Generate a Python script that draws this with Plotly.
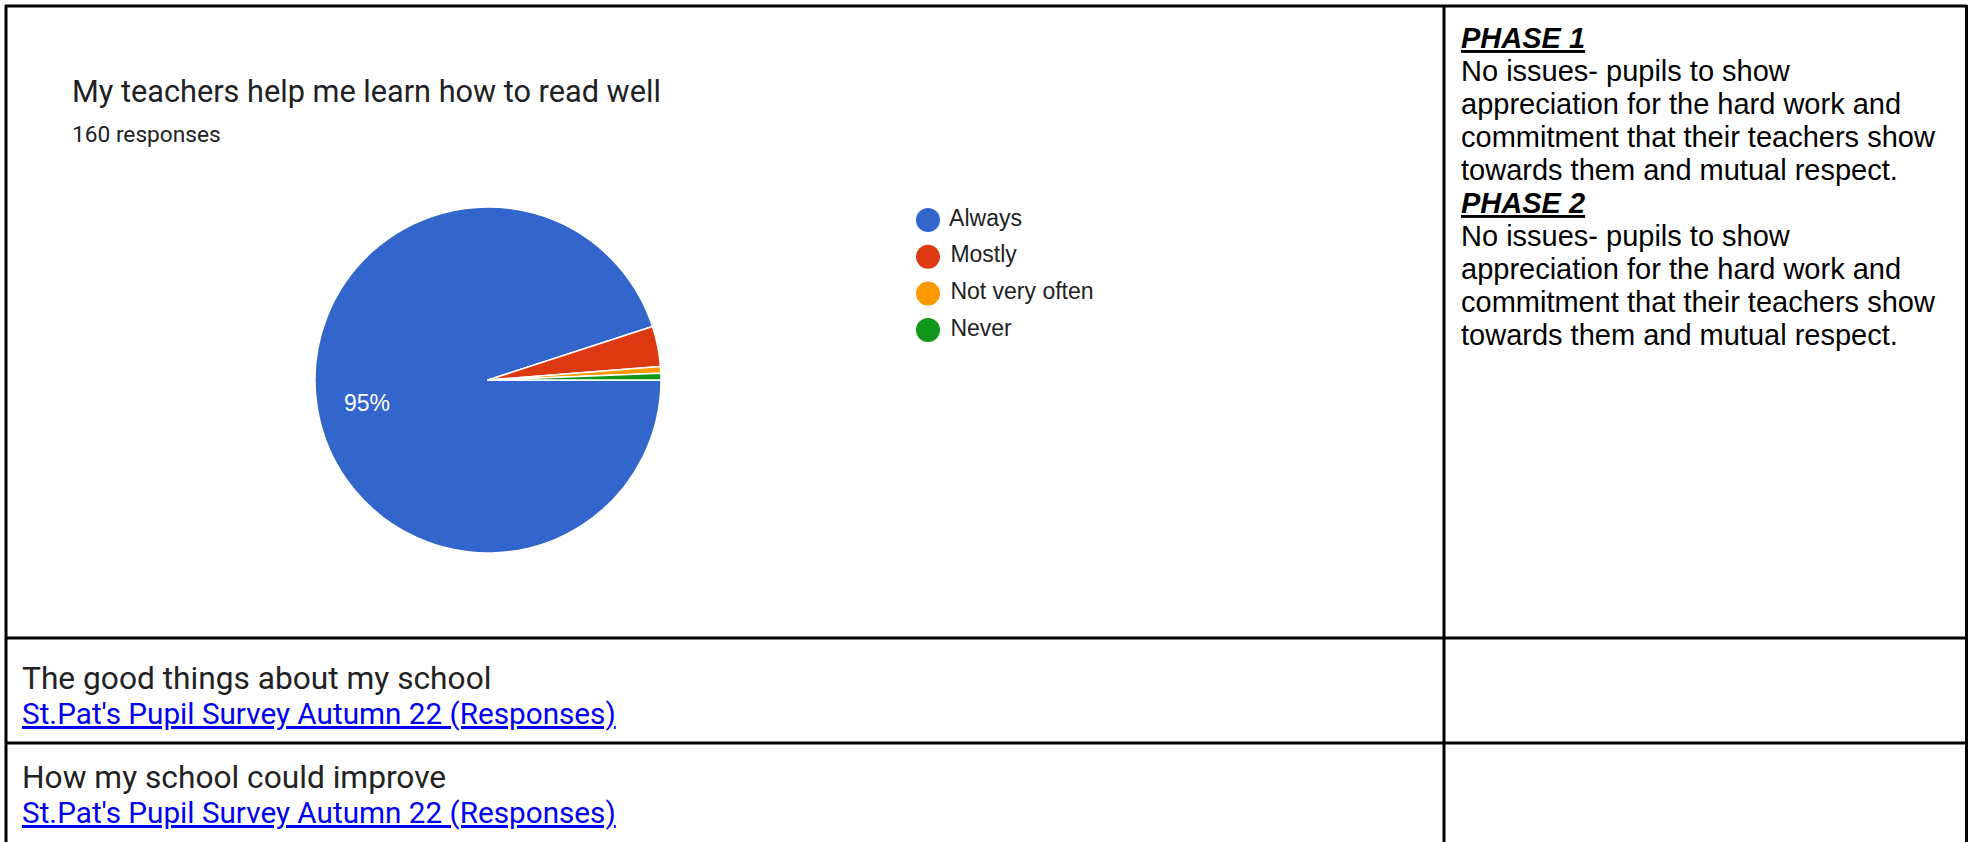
import math
import plotly.graph_objects as go

W, H = 1968, 842

# ---- data ----
categories = ["Always", "Mostly", "Not very often", "Never"]
counts = [152, 6, 1, 1]
colors = ["#3366cc", "#dc3912", "#ff9900", "#109618"]
chart_title = "My teachers help me learn how to read well"
responses_label = "160 responses"
phase_lines = [
    "<b><i><u>PHASE 1</u></i></b>",
    "No issues- pupils to show",
    "appreciation for the hard work and",
    "commitment that their teachers show",
    "towards them and mutual respect.",
    "<b><i><u>PHASE 2</u></i></b>",
    "No issues- pupils to show",
    "appreciation for the hard work and",
    "commitment that their teachers show",
    "towards them and mutual respect.",
]
row_titles = ["The good things about my school", "How my school could improve"]
link_text = "St.Pat's Pupil Survey Autumn 22 (Responses)"

total = sum(counts)
shares = [c / total for c in counts]
rotation = 90


def px(x):
    return x / W


def py(y):
    return 1 - y / H


fig = go.Figure()

# pie
cx, cy, r = 488, 380, 173
fig.add_trace(go.Pie(
    labels=categories, values=counts, sort=False, direction="clockwise", rotation=rotation,
    marker=dict(colors=colors, line=dict(color="white", width=1.5)),
    textinfo="none",
    domain=dict(x=[px(cx - r), px(cx + r)], y=[py(cy + r), py(cy - r)]),
    showlegend=False, hoverinfo="label+percent",
))

annotations = []

# percentage labels for slices large enough to show one (placed along slice bisector)
start = rotation
for s in shares:
    span = s * 360
    if s > 0.5:
        mid = math.radians(start + span / 2)
        lx = cx + 0.72 * r * math.sin(mid)
        ly = cy - 0.72 * r * math.cos(mid)
        annotations.append(dict(
            text=f"{round(s * 100)}%", x=px(lx), y=py(ly), xref="paper", yref="paper",
            xanchor="center", yanchor="middle", showarrow=False, xshift=2.5, yshift=-3.5,
            font=dict(family="Liberation Sans, Arial", size=23, color="white"),
        ))
    start += span

# legend drawn as scatter markers
leg_x, leg_y0, leg_dy = 928, 220, 36.7
fig.add_trace(go.Scatter(
    x=[0] * len(categories), y=categories, mode="markers+text",
    marker=dict(size=24, color=colors),
    text=categories, texttemplate=" %{text}", textposition="middle right",
    textfont=dict(family="Liberation Sans, Arial", size=23, color="#222222"),
    showlegend=False, hoverinfo="skip", cliponaxis=False,
))
fig.update_layout(
    xaxis=dict(domain=[px(leg_x), 0.7], range=[0, 1], visible=False, fixedrange=True),
    yaxis=dict(domain=[py(leg_y0 + leg_dy * 3.5), py(leg_y0 - leg_dy * 0.5)],
               type="category", categoryorder="array", categoryarray=categories,
               range=[3.5, -0.5], visible=False, fixedrange=True),
)


def add_text(text, x, y_base, size, family, color, asc=0.345):
    annotations.append(dict(
        text=text, x=px(x), y=py(y_base - asc * size), xref="paper", yref="paper",
        xanchor="left", yanchor="middle", showarrow=False,
        font=dict(family=family, size=size, color=color),
    ))


add_text(chart_title, 70, 102, 30.7, "Roboto", "#202124")
add_text(responses_label, 70, 142, 22.7, "Roboto", "#202124")

for i, line in enumerate(phase_lines):
    add_text(line, 1459, 48 + 33.0 * i, 29, "Liberation Sans, Arial", "#000000")

row_base = [689, 788.5]
for t, b in zip(row_titles, row_base):
    add_text(t, 20, b, 31.7, "Roboto", "#222222")
    add_text(f"<u>{link_text}</u>", 20, b + 34.5, 29.7, "Roboto", "#0000ee")

lw = 3
shapes = []


def hline(y, x0, x1):
    shapes.append(dict(type="line", xref="paper", yref="paper", x0=px(x0), x1=px(x1),
                       y0=py(y), y1=py(y), line=dict(color="black", width=lw)))


def vline(x, y0, y1):
    shapes.append(dict(type="line", xref="paper", yref="paper", x0=px(x), x1=px(x),
                       y0=py(y0), y1=py(y1), line=dict(color="black", width=lw)))


hline(6, 5, 1967)
hline(638, 5, 1967)
hline(743, 5, 1967)
vline(6, 5, 850)
vline(1444, 5, 850)
vline(1966.5, 5, 850)

fig.update_layout(
    width=W, height=H, margin=dict(l=0, r=0, t=0, b=0),
    paper_bgcolor="white", plot_bgcolor="white",
    annotations=annotations, shapes=shapes,
)

fig.write_html(
    "out.html",
    config={"displayModeBar": False},
    post_script="document.body.style.margin='0';document.body.style.overflow='hidden';",
)
